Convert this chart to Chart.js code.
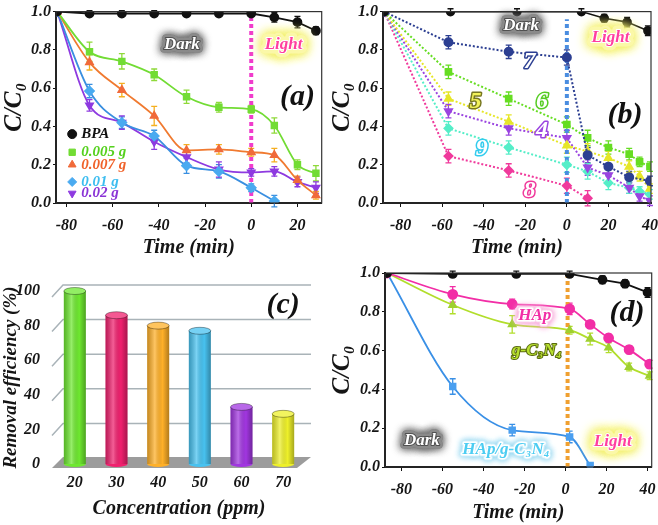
<!DOCTYPE html>
<html lang="en">
<head>
<meta charset="UTF-8" />
<title>BPA photocatalytic degradation</title>
<script src="https://cdn.jsdelivr.net/npm/chart.js"></script>
<style>
  body { margin: 0; background: #fff; }
  #wrap { position: relative; width: 658px; height: 525px; overflow: hidden; }
  canvas { position: absolute; }
</style>
</head>
<body>
<div id="wrap">
  <canvas id="chartA" width="328" height="260" style="left:0;top:0"></canvas>
  <canvas id="chartB" width="330" height="260" style="left:328px;top:0"></canvas>
  <canvas id="chartC" width="328" height="265" style="left:0;top:260px"></canvas>
  <canvas id="chartD" width="330" height="265" style="left:328px;top:260px"></canvas>
</div>

<script>
// ---- (a) effect of catalyst dose ----
const timeA = [-84, -70, -56, -42, -28, -14, 0, 10, 20, 28];
const bpaA    = [1.0, 0.99, 0.99, 0.99, 0.99, 0.99, 0.99, 0.97, 0.945, 0.90];
const dose005 = [1.0, 0.79, 0.74, 0.67, 0.555, 0.50, 0.49, 0.405, 0.20, 0.155];
const dose007 = [1.0, 0.735, 0.59, 0.455, 0.275, 0.28, 0.265, 0.25, 0.12, 0.04];
const dose01  = [1.0, 0.585, 0.42, 0.35, 0.195, 0.165, 0.08, 0.01, null, null];
const dose02  = [1.0, 0.51, 0.42, 0.32, 0.24, 0.175, 0.16, 0.165, 0.11, 0.08];
const errBpaA = [0, 0.015, 0.015, 0.015, 0.01, 0.01, 0.01, 0.025, 0.03, 0.02];
const err005  = [0, 0.05, 0.04, 0.03, 0.035, 0.025, 0.02, 0.04, 0.025, 0.04];
const err007  = [0, 0.04, 0.035, 0.05, 0.03, 0.025, 0.02, 0.035, 0.02, 0.02];
const err01   = [0, 0.035, 0.03, 0.03, 0.04, 0.035, 0.02, 0.03, 0, 0];
const err02   = [0, 0.03, 0.035, 0.04, 0.03, 0.04, 0.02, 0.025, 0.025, 0.03];

// ---- (b) effect of initial concentration (series 4..9) ----
const timeB    = [-88, -57, -28, 0, 10, 20, 30, 35, 40];
const timeBpaB = [-88, -56, -24, 7, 18, 29, 39];
const bpaB     = [1.0, 1.0, 1.0, 1.0, 0.965, 0.945, 0.90];
const errBpaB  = [0, 0.015, 0.015, 0.015, 0.02, 0.025, 0.025];
const conc7 = [1.0, 0.84, 0.79, 0.76, 0.25, 0.19, 0.135, null, 0.115];
const conc6 = [1.0, 0.685, 0.545, 0.41, 0.34, 0.29, 0.255, 0.215, 0.19];
const conc5 = [1.0, 0.545, 0.425, 0.30, 0.27, 0.235, 0.19, 0.14, 0.075];
const conc4 = [1.0, 0.48, 0.39, 0.34, 0.185, 0.145, 0.08, 0.035, 0.012];
const conc9 = [1.0, 0.39, 0.29, 0.20, 0.165, 0.105, 0.08, 0.06, 0.045];
const conc8 = [1.0, 0.245, 0.17, 0.09, 0.025, null, null, null, null];
const errB  = [0, 0.035, 0.035, 0.04, 0.04, 0.035, 0.03, 0.025, 0.025];

// ---- (c) removal efficiency vs concentration ----
const concLabels = ['20', '30', '40', '50', '60', '70'];
const removal    = [100, 86, 80, 77, 33, 29];
const barColors  = ['#6ee830', '#f0206e', '#ffb028', '#48c2f0', '#a136e0', '#eef02a'];

// ---- (d) HAp, g-C3N4 and composite ----
const timeD    = [-87, -55, -26, 2, 12, 21, 31, 41];
const timeBpaD = [-87, -55, -24, 2, 18, 29, 40];
const bpaD     = [1.0, 0.995, 0.995, 0.995, 0.965, 0.945, 0.90];
const hap      = [1.0, 0.89, 0.84, 0.815, 0.735, 0.665, 0.605, 0.53];
const gcn      = [1.0, 0.835, 0.735, 0.705, 0.66, 0.615, 0.515, 0.47];
const hapGcn   = [1.0, 0.415, 0.19, 0.155, 0.008];
const errBpaD  = [0, 0.015, 0.015, 0.015, 0.02, 0.02, 0.025];
const errHap   = [0, 0.04, 0.025, 0.03, 0.02, 0.02, 0.02, 0.02];
const errGcn   = [0, 0.045, 0.045, 0.02, 0.03, 0.025, 0.02, 0.02];
const errHapGcn = [0, 0.04, 0.03, 0.03, 0.01];

const xTicksTime = [-80, -60, -40, -20, 0, 20, 40];
const yTicksRatio = [0, 0.2, 0.4, 0.6, 0.8, 1.0];

const SERIF = "'Liberation Serif', 'DejaVu Serif', serif";
Chart.defaults.font.family = SERIF;
Chart.defaults.font.style = 'italic';
Chart.defaults.font.weight = 'bold';
Chart.defaults.font.size = 15;
Chart.defaults.color = '#151515';
Chart.defaults.animation = false;

function xy(xs, ys) {
  return xs.map((x, i) => ({ x: x, y: ys[i] === undefined ? null : ys[i] }));
}

// error bars drawn from each dataset's "errors" array
const errorBars = {
  id: 'errorBars',
  beforeDatasetsDraw(chart) {
    const ctx = chart.ctx, ys = chart.scales.y;
    chart.data.datasets.forEach((ds, i) => {
      if (!ds.errors) return;
      const meta = chart.getDatasetMeta(i);
      ctx.save();
      ctx.strokeStyle = ds.errorColor || ds.borderColor;
      ctx.lineWidth = 1.3;
      meta.data.forEach((pt, j) => {
        const e = ds.errors[j], d = ds.data[j];
        if (!e || !d || d.y == null) return;
        const t = ys.getPixelForValue(d.y + e), b = ys.getPixelForValue(d.y - e);
        ctx.beginPath();
        ctx.moveTo(pt.x, t); ctx.lineTo(pt.x, b);
        ctx.moveTo(pt.x - 3, t); ctx.lineTo(pt.x + 3, t);
        ctx.moveTo(pt.x - 3, b); ctx.lineTo(pt.x + 3, b);
        ctx.stroke();
      });
      ctx.restore();
    });
  }
};

// box round the plot area
const frame = {
  id: 'frame',
  afterDraw(chart) {
    const a = chart.chartArea, ctx = chart.ctx;
    ctx.save();
    ctx.strokeStyle = '#333';
    ctx.lineWidth = 1.2;
    ctx.strokeRect(a.left, a.top, a.right - a.left, a.bottom - a.top);
    ctx.restore();
  }
};

// free text placed in data coordinates
const notes = {
  id: 'notes',
  afterDatasetsDraw(chart, args, opts) {
    const ctx = chart.ctx;
    (opts.items || []).forEach(n => {
      const px = chart.scales.x.getPixelForValue(n.x);
      const py = chart.scales.y.getPixelForValue(n.y);
      ctx.save();
      ctx.font = 'italic bold ' + (n.size || 16) + 'px ' + SERIF;
      ctx.textAlign = 'center';
      ctx.textBaseline = 'middle';
      ctx.lineJoin = 'round';
      if (n.glow) {
        ctx.shadowColor = n.glow;
        ctx.shadowBlur = n.blur || 8;
        ctx.strokeStyle = n.glowFill || n.glow;
        ctx.lineWidth = n.glowWidth || 6;
        ctx.strokeText(n.text, px, py);
        ctx.strokeText(n.text, px, py);
        ctx.shadowBlur = 0;
      }
      if (n.stroke) {
        ctx.strokeStyle = n.stroke;
        ctx.lineWidth = n.lw || 2.5;
        ctx.strokeText(n.text, px, py);
      }
      ctx.fillStyle = n.fill;
      ctx.fillText(n.text, px, py);
      ctx.restore();
    });
  }
};

// legend inside the plot (panel a)
const insideLegend = {
  id: 'insideLegend',
  afterDatasetsDraw(chart, args, opts) {
    if (!opts.rows) return;
    const ctx = chart.ctx;
    opts.rows.forEach(r => {
      const ds = chart.data.datasets[r.index];
      const px = chart.scales.x.getPixelForValue(r.x);
      const py = chart.scales.y.getPixelForValue(r.y);
      ctx.save();
      ctx.fillStyle = ds.pointBackgroundColor;
      ctx.strokeStyle = ds.pointBackgroundColor;
      Chart.helpers.drawPoint(ctx, { pointStyle: ds.pointStyle, radius: 4.5, rotation: ds.pointRotation || 0, borderWidth: 1 }, px, py);
      ctx.font = 'italic bold 15px ' + SERIF;
      ctx.textBaseline = 'middle';
      ctx.fillStyle = ds.legendColor;
      ctx.fillText(ds.label, px + 9, py);
      ctx.restore();
    });
  }
};

function ratioOptions(xMin, xMax, pad, xH, yW) {
  return {
    responsive: false,
    layout: { padding: pad },
    plugins: { legend: { display: false }, tooltip: { enabled: false } },
    scales: {
      x: {
        type: 'linear', min: xMin, max: xMax,
        afterBuildTicks: s => { s.ticks = xTicksTime.filter(v => v >= xMin && v <= xMax).map(v => ({ value: v })); },
        // fixed height; let the last label run off the canvas like the original
        afterFit: s => { s.height = xH; s.paddingLeft = 0; s.paddingRight = 0; },
        border: { color: '#111', width: 2 },
        grid: { drawOnChartArea: false, color: '#111', tickLength: 4 },
        ticks: { padding: 9, font: { size: 16 }, callback: v => v },
        title: { display: true, text: 'Time (min)', font: { size: 20 }, padding: { top: 0, bottom: 0 } }
      },
      y: {
        min: 0, max: 1.0,
        afterBuildTicks: s => { s.ticks = yTicksRatio.map(v => ({ value: v })); },
        afterFit: s => { s.width = yW; },
        border: { color: '#111', width: 2 },
        grid: { drawOnChartArea: false, color: '#111', tickLength: 3 },
        ticks: { padding: 2, font: { size: 16 }, callback: v => v.toFixed(1) },
        title: { display: true, text: 'C/C\u2080', font: { size: 25 }, padding: { top: 0, bottom: 0 } }
      }
    }
  };
}

function series(label, xs, ys, errs, color, style, more) {
  return Object.assign({
    label: label,
    data: xy(xs, ys),
    errors: errs,
    borderColor: color,
    backgroundColor: color,
    pointBackgroundColor: color,
    pointBorderColor: color,
    pointStyle: style,
    pointRadius: 4,
    borderWidth: 1.8,
    cubicInterpolationMode: 'monotone',
    spanGaps: true
  }, more || {});
}

function marker(x, top, color) {
  return {
    label: 'marker', data: [{ x: x, y: 0 }, { x: x, y: top }],
    borderColor: color, borderWidth: 4, borderDash: [4, 3],
    pointRadius: 0, order: 10
  };
}

const darkNote = (x, y) => ({ text: 'Dark', x: x, y: y, size: 17, fill: '#ffffff', stroke: '#505050', lw: 2, glow: '#6b6b6b', glowFill: '#8a8a8a', blur: 8, glowWidth: 7 });
const lightNote = (x, y) => ({ text: 'Light', x: x, y: y, size: 17, fill: '#ff3f9f', stroke: '#ffffff', lw: 2, glow: '#f2ef6a', glowFill: '#fbf8a8', blur: 12, glowWidth: 9 });

// ---------- panel (a) ----------
const optsA = ratioOptions(-84.5, 30.5, { top: 10, right: 6 }, 57, 56);
optsA.plugins.notes = {
  items: [
    darkNote(-30, 0.83),
    lightNote(14, 0.83),
    { text: '(a)', x: 20, y: 0.55, size: 30, fill: '#111' }
  ]
};
optsA.plugins.insideLegend = {
  rows: [
    { index: 0, x: -77.5, y: 0.36 },
    { index: 1, x: -77.5, y: 0.265 },
    { index: 2, x: -77.5, y: 0.20 },
    { index: 3, x: -77.5, y: 0.11 },
    { index: 4, x: -77.5, y: 0.05 }
  ]
};
new Chart(document.getElementById('chartA'), {
  type: 'line',
  data: {
    datasets: [
      series('BPA', timeA, bpaA, errBpaA, '#111111', 'circle', { legendColor: '#111', cubicInterpolationMode: 'default', tension: 0 }),
      series('0.005 g', timeA, dose005, err005, '#72dc34', 'rect', { legendColor: '#55d11e', errorColor: '#8fd93a' }),
      series('0.007 g', timeA, dose007, err007, '#f07a30', 'triangle', { legendColor: '#f0622a', errorColor: '#f5b020', pointBackgroundColor: '#f06a3a', pointBorderColor: '#f06a3a' }),
      series('0.01 g', timeA, dose01, err01, '#3a8fe0', 'rectRot', { legendColor: '#3cbdf0', pointBackgroundColor: '#4aaaf0', pointBorderColor: '#4aaaf0', pointRadius: 4.5 }),
      series('0.02 g', timeA, dose02, err02, '#8e3ae0', 'triangle', { legendColor: '#8a34d6', pointRotation: 180 }),
      marker(0, 1.0, '#f03ccc')
    ]
  },
  options: optsA,
  plugins: [errorBars, notes, insideLegend, frame]
});

// ---------- panel (b) ----------
const dotted = { borderDash: [2, 2], borderWidth: 2, cubicInterpolationMode: 'default', tension: 0 };
const optsB = ratioOptions(-88.5, 40.5, { top: 8, right: 7 }, 57, 55);
optsB.plugins.notes = {
  items: [
    darkNote(-22, 0.925),
    lightNote(21, 0.865),
    { text: '(b)', x: 28, y: 0.46, size: 30, fill: '#111' },
    { text: '7', x: -18, y: 0.74, size: 24, fill: '#ffffff', stroke: '#2c3f92', lw: 3 },
    { text: '5', x: -44, y: 0.53, size: 24, fill: '#f2f25a', stroke: '#777722', lw: 3 },
    { text: '6', x: -12, y: 0.53, size: 24, fill: '#ffffff', stroke: '#55cc22', lw: 3 },
    { text: '4', x: -12, y: 0.375, size: 24, fill: '#ffffff', stroke: '#9a44e0', lw: 3 },
    { text: '9', x: -41, y: 0.285, size: 24, fill: '#ffffff', stroke: '#33ccee', lw: 3 },
    { text: '8', x: -18, y: 0.065, size: 24, fill: '#ffffff', stroke: '#f03a9c', lw: 3 }
  ]
};
new Chart(document.getElementById('chartB'), {
  type: 'line',
  data: {
    datasets: [
      series('BPA', timeBpaB, bpaB, errBpaB, '#111111', 'circle', { tension: 0, cubicInterpolationMode: 'default', borderWidth: 1.6 }),
      series('7', timeB, conc7, errB, '#2c3f92', 'circle', dotted),
      series('6', timeB, conc6, errB, '#66dd22', 'rect', dotted),
      series('5', timeB, conc5, errB, '#e6e628', 'triangle', dotted),
      series('4', timeB, conc4, errB, '#9a44e0', 'triangle', Object.assign({ pointRotation: 180 }, dotted)),
      series('9', timeB, conc9, errB, '#55eec8', 'rectRot', dotted),
      series('8', timeB, conc8, errB, '#f03a9c', 'rectRot', dotted),
      marker(0, 0.96, '#4a8de0')
    ]
  },
  options: optsB,
  plugins: [errorBars, notes, frame]
});

// ---------- panel (c) ----------
const floorAndWall = {
  id: 'floorAndWall',
  beforeDatasetsDraw(chart) {
    const ctx = chart.ctx, a = chart.chartArea, ys = chart.scales.y;
    ctx.save();
    // back wall grid lines
    ctx.strokeStyle = '#a9b3b8';
    ctx.lineWidth = 1.5;
    ys.ticks.forEach(t => {
      if (t.value === 0) return;
      const py = ys.getPixelForValue(t.value);
      ctx.beginPath();
      ctx.moveTo(a.left - 2, py + 6);
      ctx.lineTo(a.left + 9, py - 6);
      ctx.lineTo(a.right + 7, py - 6);
      ctx.stroke();
    });
    // floor
    const b = ys.getPixelForValue(0);
    ctx.fillStyle = '#9c9c9c';
    ctx.beginPath();
    ctx.moveTo(a.left - 2, b + 4);
    ctx.lineTo(a.left + 9, b - 7);
    ctx.lineTo(a.right + 7, b - 7);
    ctx.lineTo(a.right - 7, b + 4);
    ctx.closePath();
    ctx.fill();
    ctx.restore();
  },
  afterDatasetsDraw(chart) {
    const ctx = chart.ctx;
    const meta = chart.getDatasetMeta(0);
    meta.data.forEach((bar, i) => {
      const w = bar.width, l = bar.x - w / 2;
      const g = ctx.createLinearGradient(l, 0, l + w, 0);
      g.addColorStop(0, 'rgba(0,0,0,0.22)');
      g.addColorStop(0.35, 'rgba(255,255,255,0.28)');
      g.addColorStop(0.7, 'rgba(0,0,0,0.0)');
      g.addColorStop(1, 'rgba(0,0,0,0.3)');
      ctx.save();
      ctx.fillStyle = g;
      ctx.fillRect(l, bar.y, w, bar.base - bar.y);
      // bottom and top caps
      ctx.fillStyle = barColors[i];
      ctx.beginPath();
      ctx.ellipse(bar.x, bar.base, w / 2, 3, 0, 0, Math.PI);
      ctx.fill();
      ctx.beginPath();
      ctx.ellipse(bar.x, bar.y, w / 2, 3.5, 0, 0, Math.PI * 2);
      ctx.fill();
      ctx.fillStyle = 'rgba(255,255,255,0.25)';
      ctx.fill();
      ctx.strokeStyle = 'rgba(0,0,0,0.35)';
      ctx.lineWidth = 1;
      ctx.stroke();
      ctx.restore();
    });
  }
};

new Chart(document.getElementById('chartC'), {
  type: 'bar',
  data: {
    labels: concLabels,
    datasets: [{ data: removal, backgroundColor: barColors, borderWidth: 0, maxBarThickness: 22 }]
  },
  options: {
    responsive: false,
    layout: { padding: { top: 31, right: 24 } },
    plugins: {
      legend: { display: false },
      tooltip: { enabled: false },
      notes: { items: [{ text: '(c)', x: 5, y: 92, size: 30, fill: '#111' }] }
    },
    scales: {
      x: {
        afterFit: s => { s.height = 61; },
        border: { display: false },
        grid: { display: false },
        ticks: { padding: 1, font: { size: 16 } },
        title: { display: true, text: 'Concentration (ppm)', font: { size: 20 }, padding: { top: 0, bottom: 4 } }
      },
      y: {
        min: 0, max: 100,
        ticks: { stepSize: 20, padding: 6, font: { size: 16 } },
        afterFit: s => { s.width = 54; },
        border: { display: false },
        grid: { display: false },
        title: { display: true, text: 'Removal efficiency (%)', font: { size: 19 }, padding: { top: 0, bottom: 0 } }
      }
    }
  },
  plugins: [floorAndWall, notes]
});

// ---------- panel (d) ----------
const optsD = ratioOptions(-88, 42, { top: 13, right: 5 }, 58, 57);
optsD.plugins.notes = {
  items: [
    darkNote(-70, 0.135),
    lightNote(23, 0.13),
    { text: '(d)', x: 30, y: 0.79, size: 30, fill: '#111' },
    { text: 'HAp', x: -15, y: 0.78, size: 17, fill: '#f22ea6', stroke: '#ffffff', lw: 3, glow: '#f7a6d8', glowFill: '#fbd0ea', blur: 6, glowWidth: 5 },
    { text: 'g-C\u2083N\u2084', x: -14, y: 0.6, size: 17, fill: '#b8e030', stroke: '#5a6a10', lw: 2 },
    { text: 'HAp/g-C\u2083N\u2084', x: -29, y: 0.09, size: 17, fill: '#4ccdf2', stroke: '#ffffff', lw: 3, glow: '#9ad8f0', glowFill: '#cdeefa', blur: 6, glowWidth: 5 }
  ]
};
new Chart(document.getElementById('chartD'), {
  type: 'line',
  data: {
    datasets: [
      series('BPA', timeBpaD, bpaD, errBpaD, '#111111', 'circle', { tension: 0, cubicInterpolationMode: 'default' }),
      series('HAp', timeD, hap, errHap, '#f22ea6', 'circle', { pointRadius: 4.5 }),
      series('g-C3N4', timeD, gcn, errGcn, '#b2de2c', 'triangle', { pointBackgroundColor: '#9fd030', pointBorderColor: '#9fd030' }),
      series('HAp/g-C3N4', timeD, hapGcn, errHapGcn, '#3a90e6', 'rect', { pointBackgroundColor: '#4a9ff0', pointBorderColor: '#4a9ff0' }),
      marker(1, 1.0, '#f0a030')
    ]
  },
  options: optsD,
  plugins: [errorBars, notes, frame]
});
</script>
</body>
</html>
